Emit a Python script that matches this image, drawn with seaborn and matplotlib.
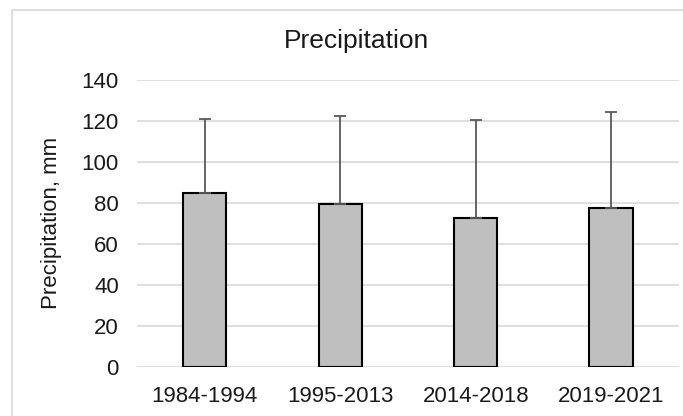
import matplotlib
matplotlib.use("Agg")
import matplotlib.pyplot as plt
import seaborn as sns
import pandas as pd
import numpy as np
from matplotlib.patches import Rectangle

periods = ["1984-1994", "1995-2013", "2014-2018", "2019-2021"]
precip = [84.6, 79.7, 72.6, 77.5]
upper_err = [36.4, 42.5, 47.8, 47.0]

sns.set_theme(style="white")
plt.rcParams['font.family'] = ['Liberation Sans', 'DejaVu Sans']

df = pd.DataFrame({"period": periods, "precip": precip})

fig = plt.figure(figsize=(6.83, 4.16), dpi=100)
ax = fig.add_axes([0.2006, 0.118, 0.7934, 0.69])

sns.barplot(data=df, x="period", y="precip", color="#BFBFBF", width=0.32,
            edgecolor="black", linewidth=1.5, saturation=1, ax=ax, zorder=3)
ax.errorbar(np.arange(len(periods)), precip, yerr=[np.zeros(len(periods)), upper_err],
            fmt="none", ecolor="#595959", elinewidth=1.3, capsize=4, capthick=1.3, zorder=4)

ax.set_ylim(0, 140)
ax.set_yticks(np.arange(0, 141, 20))
ax.set_xlim(-0.5, 3.5)
ax.yaxis.grid(True, color="#D9D9D9", linewidth=1.2, zorder=0)
ax.set_axisbelow(True)
for s in ax.spines.values():
    s.set_visible(False)
ax.tick_params(axis="y", length=0, labelsize=16, colors="#1a1a1a", pad=13)
ax.tick_params(axis="x", length=0, labelsize=16, colors="#1a1a1a", pad=14)
ax.set_xlabel("")
ax.set_ylabel("Precipitation, mm", fontsize=16, color="#1a1a1a", labelpad=14)
fig.text(356 / 683, 1 - 41 / 416, "Precipitation", ha="center", va="center",
         fontsize=19, color="#1a1a1a")

fig.patches.append(Rectangle((12 / 683, -0.1), 1.2, 1.1 - 10 / 416,
                             transform=fig.transFigure, fill=False,
                             edgecolor="#D9D9D9", linewidth=1.2))

fig.savefig("out.png", dpi=100)
